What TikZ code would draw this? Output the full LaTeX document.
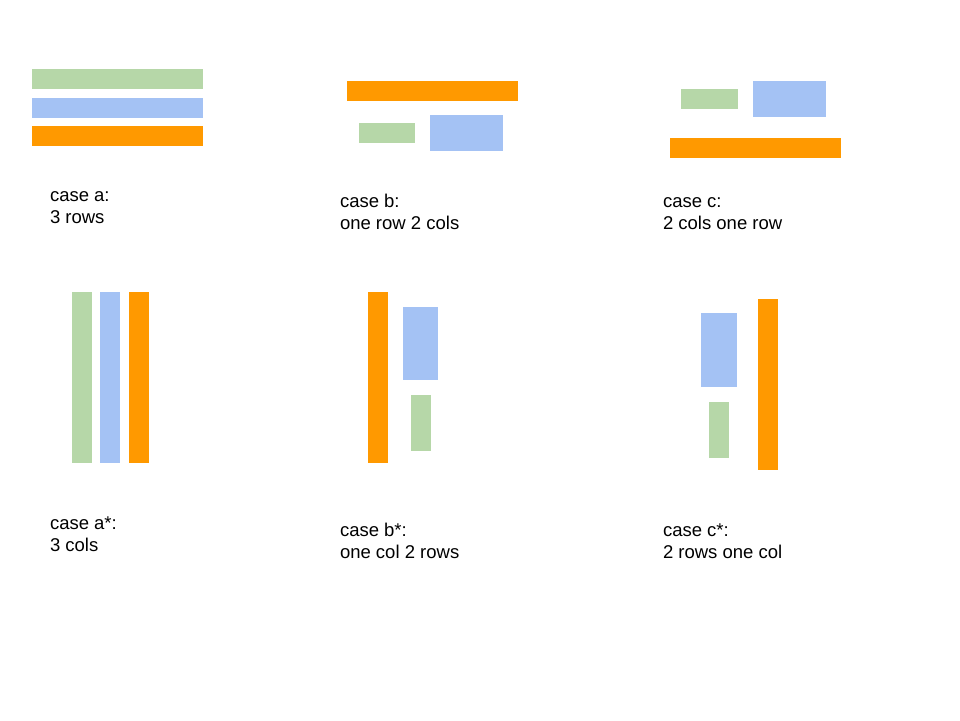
\documentclass[tikz,border=0pt]{standalone}
\usepackage{fontspec}
\setmainfont{Liberation Sans}
\definecolor{cgreen}{HTML}{B6D7A8}
\definecolor{cblue}{HTML}{A4C2F4}
\definecolor{corange}{HTML}{FF9900}
\begin{document}
\begin{tikzpicture}[x=1pt,y=-1pt,
  lbl/.style={anchor=base west, inner sep=0pt, outer sep=0pt, align=left, font=\fontsize{18.5}{21.5}\selectfont},
  gbar/.style={fill=cgreen},
  bbar/.style={fill=cblue},
  obar/.style={fill=corange}]
\useasboundingbox[fill=white] (0,0) rectangle (960,720);
% case a
\fill[gbar] (31.5,69.3) rectangle (202.7,89.3);
\fill[bbar] (31.5,97.7) rectangle (202.7,117.7);
\fill[obar] (31.5,126) rectangle (202.7,146);
\node[lbl] (la) at (50,223) {case a:\\3 rows};
% case b
\fill[obar] (347,80.7) rectangle (518.3,100.7);
\fill[gbar] (359,123.3) rectangle (414.7,143.3);
\fill[bbar] (430,115.3) rectangle (503.3,151);
\node[lbl] (lb) at (340,229) {case b:\\one row 2 cols};
% case c
\fill[gbar] (681.3,88.7) rectangle (737.7,108.7);
\fill[bbar] (752.7,80.7) rectangle (826,116.7);
\fill[obar] (670,137.5) rectangle (840.7,157.7);
\node[lbl] (lc) at (663,229) {case c:\\2 cols one row};
% case a*
\fill[gbar] (72,292) rectangle (92,462.7);
\fill[bbar] (100.3,292) rectangle (120.3,462.7);
\fill[obar] (128.7,292) rectangle (149,462.7);
\node[lbl] (las) at (50,551) {case a*:\\3 cols};
% case b*
\fill[obar] (368,292) rectangle (388.3,462.7);
\fill[bbar] (402.7,306.7) rectangle (438.3,379.7);
\fill[gbar] (410.7,395.3) rectangle (430.7,451);
\node[lbl] (lbs) at (340,558) {case b*:\\one col 2 rows};
% case c*
\fill[bbar] (701,313.3) rectangle (737.3,387);
\fill[gbar] (709,402) rectangle (729,458);
\fill[obar] (757.7,299) rectangle (778,469.7);
\node[lbl] (lcs) at (663,558) {case c*:\\2 rows one col};
\end{tikzpicture}
\end{document}
